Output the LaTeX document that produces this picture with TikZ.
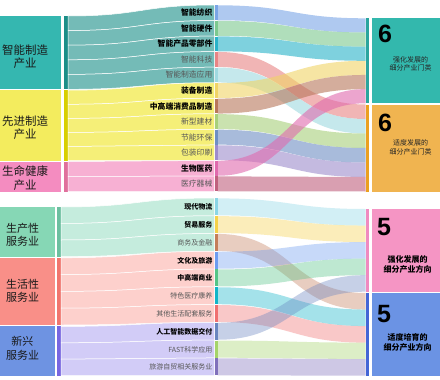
\documentclass[tikz,border=0pt]{standalone}
\usepackage{fontspec}
\setmainfont{Noto Sans CJK SC}
\newfontfamily\numfont{Liberation Sans}
% category colours
\definecolor{Aone}{HTML}{35B7B0}\definecolor{Aonel}{HTML}{74BBB7}\definecolor{Aoneb}{HTML}{1B8E88}
\definecolor{Atwo}{HTML}{F3EC5E}\definecolor{Atwol}{HTML}{F5EF78}\definecolor{Atwob}{HTML}{D8CF00}
\definecolor{Athr}{HTML}{F48CC0}\definecolor{Athrl}{HTML}{F7B0D3}\definecolor{Athrb}{HTML}{E0709C}
\definecolor{Bone}{HTML}{86D7B5}\definecolor{Bonel}{HTML}{C5ECDD}\definecolor{Boneb}{HTML}{6CBFA0}
\definecolor{Btwo}{HTML}{F98F88}\definecolor{Btwol}{HTML}{FDD0CC}\definecolor{Btwob}{HTML}{F0756E}
\definecolor{Bthr}{HTML}{6E93E2}\definecolor{Bthrl}{HTML}{D2CCF7}\definecolor{Bthrb}{HTML}{7866E0}
% right boxes
\definecolor{Qtop}{HTML}{33B8AD}\definecolor{Qtopb}{HTML}{2AA59E}
\definecolor{Stop}{HTML}{F0B450}\definecolor{Stopb}{HTML}{EBA020}
\definecolor{Qbot}{HTML}{F595C4}\definecolor{Qbotb}{HTML}{F08AC0}
\definecolor{Sbot}{HTML}{6B93E4}\definecolor{Sbotb}{HTML}{4466D6}
% top middle bars
\definecolor{tzero}{HTML}{7AA5E6}\definecolor{tone}{HTML}{7CC98E}\definecolor{ttwo}{HTML}{29B3C9}
\definecolor{tthree}{HTML}{E88585}\definecolor{tfour}{HTML}{9FD9E0}\definecolor{tfive}{HTML}{F0D466}
\definecolor{tsix}{HTML}{B8775A}\definecolor{tseven}{HTML}{A8D07A}\definecolor{teight}{HTML}{6E8FC4}
\definecolor{tnine}{HTML}{9D8CCC}\definecolor{tten}{HTML}{E06AAE}\definecolor{televen}{HTML}{C0607E}
% bottom middle bars
\definecolor{bzero}{HTML}{8AD6E6}\definecolor{bone}{HTML}{F5D24A}\definecolor{btwo}{HTML}{C47E5A}
\definecolor{bthree}{HTML}{6D9CF0}\definecolor{bfour}{HTML}{55C487}\definecolor{bfive}{HTML}{11B5C8}
\definecolor{bsix}{HTML}{F07070}\definecolor{bseven}{HTML}{6A86C0}\definecolor{beight}{HTML}{A5D46A}
\definecolor{bnine}{HTML}{8070BB}
\newcommand\rib[7]{\path[#1] (#2,#3) .. controls ({(#2+#5)/2},#3) and ({(#2+#5)/2},#6) .. (#5,#6) -- (#5,#7) .. controls ({(#2+#5)/2},#7) and ({(#2+#5)/2},#4) .. (#2,#4) -- cycle;}
\begin{document}
\begin{tikzpicture}[x=1pt,y=-1pt,
  cat/.style={align=center,font=\fontsize{11.5}{13.5}\selectfont,text=black!90,inner sep=0pt},
  catb/.style={align=center,font=\fontsize{11}{13.5}\selectfont,text=black!90,inner sep=0pt},
  lab/.style={anchor=east,inner sep=0pt,font=\fontsize{7.8}{9}\selectfont\bfseries,text=black},
  labg/.style={anchor=east,inner sep=0pt,font=\fontsize{7.8}{9}\selectfont,text=black!66},
  slab/.style={anchor=east,inner sep=0pt,font=\fontsize{7}{8}\selectfont\bfseries,text=black},
  slabg/.style={anchor=east,inner sep=0pt,font=\fontsize{7}{8}\selectfont,text=black!66},
  big/.style={inner sep=0pt,font=\numfont\bfseries\fontsize{25}{25}\selectfont,text=black},
  boxt/.style={align=center,inner sep=0pt,font=\fontsize{7}{8.5}\selectfont,text=black!85},
  boxtb/.style={align=center,inner sep=0pt,font=\fontsize{8}{10}\selectfont\bfseries,text=black},
  leftrib/.style={fill=#1,draw=white,line width=0.5pt},
  toprib/.style={fill=#1,fill opacity=0.6},
  botrib/.style={fill=#1,fill opacity=0.38}]
\useasboundingbox (0,0) rectangle (440,380);
\fill[white] (0,0) rectangle (440,380);

% ---------------- TOP SECTION ----------------
\fill[Aone] (0,16) rectangle (61,89.3);
\fill[Atwo] (0,90.2) rectangle (61,160.6);
\fill[Athr] (0,161.5) rectangle (61,191.5);
\fill[Aoneb] (64,16) rectangle (68,89.3);
\fill[Atwob] (64,90.2) rectangle (68,160.6);
\fill[Athrb] (64,161.5) rectangle (68,191.5);
\node[cat] (A1) at (25,56.5) {智能制造\\产业};
\node[cat] (A2) at (25,127.9) {先进制造\\产业};
\node[cat] (A3) at (25,178.3) {生命健康\\产业};

\rib{leftrib=Aonel}{68}{16}{30.6}{214.5}{5}{20.55}
\rib{leftrib=Aonel}{68}{30.6}{45.2}{214.5}{20.55}{36.1}
\rib{leftrib=Aonel}{68}{45.2}{59.8}{214.5}{36.1}{51.65}
\rib{leftrib=Aonel}{68}{59.8}{74.4}{214.5}{51.65}{67.2}
\rib{leftrib=Aonel}{68}{74.4}{89.3}{214.5}{67.2}{82.75}
\rib{leftrib=Atwol}{68}{90.2}{104.3}{214.5}{82.75}{98.3}
\rib{leftrib=Atwol}{68}{104.3}{118.4}{214.5}{98.3}{113.85}
\rib{leftrib=Atwol}{68}{118.4}{132.4}{214.5}{113.85}{129.4}
\rib{leftrib=Atwol}{68}{132.4}{146.5}{214.5}{129.4}{144.95}
\rib{leftrib=Atwol}{68}{146.5}{160.6}{214.5}{144.95}{160.5}
\rib{leftrib=Athrl}{68}{161.5}{176.5}{214.5}{160.5}{176.05}
\rib{leftrib=Athrl}{68}{176.5}{191.5}{214.5}{176.05}{191.6}

\node[lab]  (t0)  at (212.5,12.8) {智能纺织};
\node[lab]  (t1)  at (212.5,28.3) {智能硬件};
\node[lab]  (t2)  at (212.5,43.9) {智能产品零部件};
\node[labg] (t3)  at (212.5,59.4) {智能科技};
\node[labg] (t4)  at (212.5,75.0) {智能制造应用};
\node[lab]  (t5)  at (212.5,90.5) {装备制造};
\node[lab]  (t6)  at (212.5,106.1) {中高端消费品制造};
\node[labg] (t7)  at (212.5,121.6) {新型建材};
\node[labg] (t8)  at (212.5,137.2) {节能环保};
\node[labg] (t9)  at (212.5,152.7) {包装印刷};
\node[lab]  (t10) at (212.5,168.3) {生物医药};
\node[labg] (t11) at (212.5,183.8) {医疗器械};

\rib{toprib=tzero}{217.5}{5.3}{20.25}{365.5}{18.3}{32.47}
\rib{toprib=tone}{217.5}{20.85}{35.8}{365.5}{32.47}{46.63}
\rib{toprib=ttwo}{217.5}{36.4}{51.35}{365.5}{46.63}{60.8}
\rib{toprib=tthree}{217.5}{51.95}{66.9}{365.5}{104.5}{119}
\rib{toprib=tfour}{217.5}{67.5}{82.45}{365.5}{119}{133.5}
\rib{toprib=tfive}{217.5}{83.05}{98}{365.5}{60.8}{74.97}
\rib{toprib=tsix}{217.5}{98.6}{113.55}{365.5}{74.97}{89.13}
\rib{toprib=tseven}{217.5}{114.15}{129.1}{365.5}{133.5}{148}
\rib{toprib=teight}{217.5}{129.7}{144.65}{365.5}{148}{162.5}
\rib{toprib=tnine}{217.5}{145.25}{160.2}{365.5}{162.5}{177}
\rib{toprib=tten}{217.5}{160.8}{175.75}{365.5}{89.13}{103.3}
\rib{toprib=televen}{217.5}{176.35}{191.3}{365.5}{177}{191.5}

\foreach \c [count=\i from 0] in {tzero,tone,ttwo,tthree,tfour,tfive,tsix,tseven,teight,tnine,tten,televen}
  \fill[\c] (214.5,{5+15.55*\i+0.4}) rectangle (217.5,{5+15.55*(\i+1)-0.4});

\fill[Qtopb] (365.5,18.3) rectangle (368.5,103.3);
\fill[Stopb] (365.5,104.5) rectangle (368.5,191.5);
\fill[Qtop] (371.5,18.3) rectangle (440,103.3);
\fill[Stop] (371.5,104.5) rectangle (440,191.5);
\node[big] (n1) at (385,34) {6};
\node[boxt] (q1) at (410.5,64) {强化发展的\\细分产业门类};
\node[big] (n2) at (385,122.5) {6};
\node[boxt] (s1) at (410.5,147.5) {适度发展的\\细分产业门类};

% ---------------- BOTTOM SECTION ----------------
\fill[Bone] (0,207) rectangle (55,256.6);
\fill[Btwo] (0,257.8) rectangle (55,325);
\fill[Bthr] (0,326.4) rectangle (55,375.5);
\fill[Boneb] (57,207) rectangle (61,256.6);
\fill[Btwob] (57,257.8) rectangle (61,325);
\fill[Bthrb] (57,326.4) rectangle (61,375.5);
\node[catb] (B1) at (22.5,235) {生产性\\服务业};
\node[catb] (B2) at (22.5,291) {生活性\\服务业};
\node[catb] (B3) at (22.5,348.3) {新兴\\服务业};

\rib{leftrib=Bonel}{61}{207}{223.5}{214.5}{198}{215.77}
\rib{leftrib=Bonel}{61}{223.5}{240}{214.5}{215.77}{233.54}
\rib{leftrib=Bonel}{61}{240}{256.6}{214.5}{233.54}{251.31}
\rib{leftrib=Btwol}{61}{257.8}{274.6}{214.5}{251.31}{269.08}
\rib{leftrib=Btwol}{61}{274.6}{291.4}{214.5}{269.08}{286.85}
\rib{leftrib=Btwol}{61}{291.4}{308.2}{214.5}{286.85}{304.62}
\rib{leftrib=Btwol}{61}{308.2}{325}{214.5}{304.62}{322.39}
\rib{leftrib=Bthrl}{61}{326.4}{342.8}{214.5}{322.39}{340.16}
\rib{leftrib=Bthrl}{61}{342.8}{359.2}{214.5}{340.16}{357.93}
\rib{leftrib=Bthrl}{61}{359.2}{375.5}{214.5}{357.93}{375.7}

\node[slab]  (b0) at (212.5,207.3) {现代物流};
\node[slab]  (b1) at (212.5,225.0) {贸易服务};
\node[slabg] (b2) at (212.5,242.8) {商务及金融};
\node[slab]  (b3) at (212.5,260.6) {文化及旅游};
\node[slab]  (b4) at (212.5,278.3) {中高端商业};
\node[slabg] (b5) at (212.5,296.1) {特色医疗康养};
\node[slabg] (b6) at (212.5,313.9) {其他生活配套服务};
\node[slab]  (b7) at (212.5,331.7) {人工智能数据交付};
\node[slabg] (b8) at (212.5,349.4) {FAST科学应用};
\node[slabg] (b9) at (212.5,367.2) {旅游自贸相关服务业};

\rib{botrib=bzero}{217.5}{198.4}{215.37}{365.5}{209}{225.54}
\rib{botrib=bone}{217.5}{216.17}{233.14}{365.5}{225.54}{242.08}
\rib{botrib=btwo}{217.5}{233.94}{250.91}{365.5}{293}{309.54}
\rib{botrib=bthree}{217.5}{251.71}{268.68}{365.5}{242.08}{258.62}
\rib{botrib=bfour}{217.5}{269.48}{286.45}{365.5}{258.62}{275.16}
\rib{botrib=bfive}{217.5}{287.25}{304.22}{365.5}{309.54}{326.08}
\rib{botrib=bsix}{217.5}{305.02}{321.99}{365.5}{326.08}{342.62}
\rib{botrib=bseven}{217.5}{322.79}{339.76}{365.5}{275.16}{291.7}
\rib{botrib=beight}{217.5}{340.56}{357.53}{365.5}{342.62}{359.16}
\rib{botrib=bnine}{217.5}{358.33}{375.3}{365.5}{359.16}{375.7}

\foreach \c [count=\i from 0] in {bzero,bone,btwo,bthree,bfour,bfive,bsix,bseven,beight,bnine}
  \fill[\c] (214.5,{198+17.77*\i+0.4}) rectangle (217.5,{198+17.77*(\i+1)-0.4});

\fill[Qbotb] (365.5,209) rectangle (368.5,291.7);
\fill[Sbotb] (365.5,293) rectangle (368.5,375.7);
\fill[Qbot] (371.5,209) rectangle (440,291.7);
\fill[Sbot] (371.5,293) rectangle (440,375.7);
\node[big] (n3) at (384,227) {5};
\node[boxtb] (q2) at (407.5,264) {强化发展的\\细分产业方向};
\node[big] (n4) at (384,314) {5};
\node[boxtb] (s2) at (407.5,342) {适度培育的\\细分产业方向};
\end{tikzpicture}
\end{document}
